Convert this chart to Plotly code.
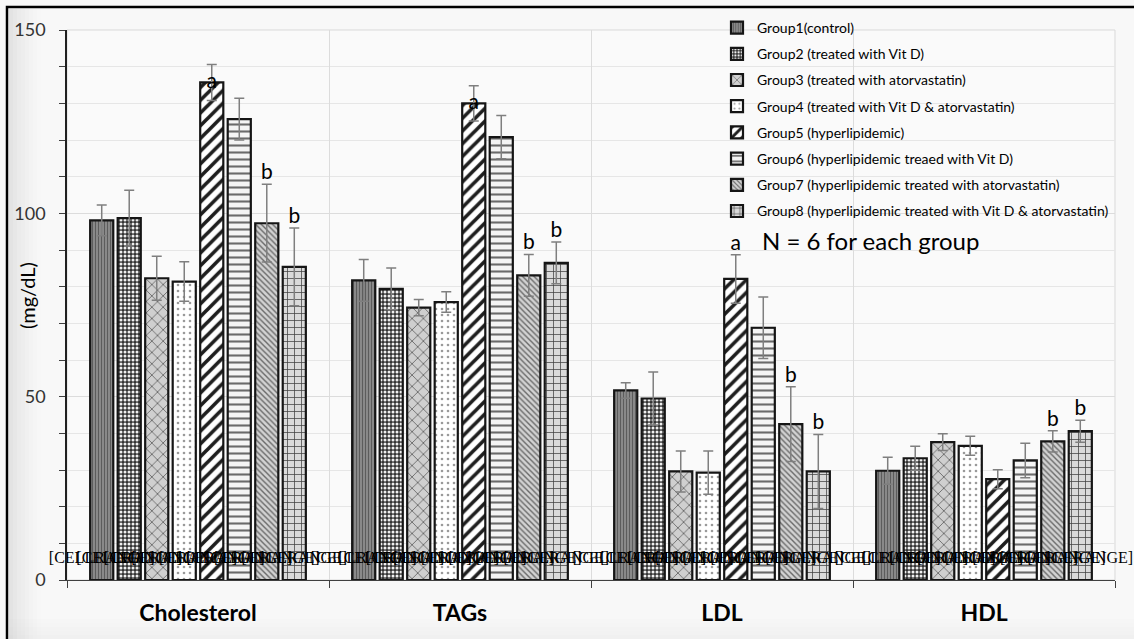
import plotly.graph_objects as go

# Lipid profile per experimental group: mean and SD (mg/dL), N = 6 per group
categories = ["Cholesterol", "TAGs", "LDL", "HDL"]

group_names = [
    "Group1(control)",
    "Group2 (treated with Vit D)",
    "Group3 (treated with atorvastatin)",
    "Group4 (treated with Vit D & atorvastatin)",
    "Group5 (hyperlipidemic)",
    "Group6 (hyperlipidemic treaed with Vit D)",
    "Group7 (hyperlipidemic treated with atorvastatin)",
    "Group8 (hyperlipidemic treated with Vit D & atorvastatin)",
]

g1_mean = [98.1, 81.7, 51.7, 29.8]
g2_mean = [98.7, 79.4, 49.5, 33.2]
g3_mean = [82.3, 74.3, 29.6, 37.6]
g4_mean = [81.4, 75.8, 29.3, 36.6]
g5_mean = [135.7, 130.0, 82.1, 27.5]
g6_mean = [125.7, 120.8, 68.8, 32.6]
g7_mean = [97.3, 83.1, 42.5, 37.8]
g8_mean = [85.4, 86.5, 29.6, 40.6]

g1_sd = [4.2, 5.7, 2.1, 3.7]
g2_sd = [7.6, 5.7, 7.2, 3.3]
g3_sd = [6.0, 2.2, 5.6, 2.3]
g4_sd = [5.4, 2.8, 5.9, 2.6]
g5_sd = [4.9, 4.8, 6.6, 2.6]
g6_sd = [5.7, 5.9, 8.4, 4.7]
g7_sd = [10.6, 5.7, 10.2, 2.9]
g8_sd = [10.6, 5.7, 10.1, 3.0]

# significance letters (a: vs control, b: vs hyperlipidemic)
g5_sig = ["a", "a", "a", ""]
g7_sig = ["b", "b", "b", "b"]
g8_sig = ["b", "b", "b", "b"]
no_sig = ["", "", "", ""]

means = [g1_mean, g2_mean, g3_mean, g4_mean, g5_mean, g6_mean, g7_mean, g8_mean]
sds = [g1_sd, g2_sd, g3_sd, g4_sd, g5_sd, g6_sd, g7_sd, g8_sd]
sigs = [no_sig, no_sig, no_sig, no_sig, g5_sig, no_sig, g7_sig, g8_sig]

# bar fill patterns: (shape, background, foreground, size, solidity)
patterns = [
    ("|", "#8e8e8e", "#5c5c5c", 3, 0.4),
    (".", "#333333", "#f0f0f0", 4, 0.45),
    ("x", "#cfcfcf", "#6e6e6e", 8, 0.22),
    (".", "#ffffff", "#9a9a9a", 6, 0.15),
    ("/", "#ffffff", "#1e1e1e", 9, 0.4),
    ("-", "#f4f4f4", "#6a6a6a", 7, 0.3),
    ("\\", "#d2d2d2", "#6a6a6a", 4, 0.35),
    ("+", "#dadada", "#404040", 7, 0.2),
]

SANS = "Lato, 'Open Sans', sans-serif"
SERIF = "'Liberation Serif', 'DejaVu Serif', serif"

fig = go.Figure()

for i, name in enumerate(group_names):
    shape, bg, fg, size, solidity = patterns[i]
    fig.add_trace(go.Bar(
        name=name,
        x=categories,
        y=means[i],
        offsetgroup=str(i),
        legendgroup=str(i),
        marker=dict(
            color=bg,
            line=dict(color="#151515", width=2.2),
            pattern=dict(shape=shape, bgcolor=bg, fgcolor=fg, size=size,
                         solidity=solidity, fillmode="replace"),
        ),
        error_y=dict(type="data", array=sds[i], visible=True,
                     color="#7f7f7f", thickness=1.5, width=5),
    ))

# data labels: "[CELLRANGE]" at each bar base, plus significance letters
for i in range(len(group_names)):
    xs, ys, texts, fonts, sizes, positions = [], [], [], [], [], []
    for j, cat in enumerate(categories):
        xs.append(cat)
        ys.append(5.8)
        texts.append("[CELLRANGE]")
        fonts.append(SERIF)
        sizes.append(16)
        positions.append("middle center")
        letter = sigs[i][j]
        if letter:
            xs.append(cat)
            # letters for group 5 on cholesterol/TAGs sit on the bar top
            if letter == "a" and j < 2:
                ys.append(means[i][j])
                positions.append("middle center")
            else:
                ys.append(means[i][j] + sds[i][j])
                positions.append("top center")
            texts.append(letter)
            fonts.append(SANS)
            sizes.append(21)
    fig.add_trace(go.Scatter(
        x=xs, y=ys, text=texts, mode="text",
        textposition=positions,
        textfont=dict(family=fonts, size=sizes, color="#000000"),
        offsetgroup=str(i),
        showlegend=False, hoverinfo="skip", cliponaxis=False,
    ))

# page frame, panel bevel and plot-area outline
shapes = []
L, R, T, B = 67, 1115, 30, 580
W = R - L
H = B - T


def px_x(p):
    return (p - L) / W


def px_y(p):
    return (B - p) / H


for k in range(8):
    shapes.append(dict(
        type="rect", xref="paper", yref="paper",
        x0=px_x(9 + 4 * k), x1=px_x(13 + 4 * k), y0=px_y(639), y1=px_y(9),
        fillcolor="#9a9a9a", opacity=0.22 * (1 - k / 8) ** 1.5, line=dict(width=0),
        layer="below",
    ))
for k in range(5):
    shapes.append(dict(
        type="rect", xref="paper", yref="paper",
        x0=px_x(9), x1=px_x(1134), y0=px_y(639 - 4 * k), y1=px_y(635 - 4 * k),
        fillcolor="#b0b0b0", opacity=0.10 * (1 - k / 5), line=dict(width=0),
        layer="below",
    ))
shapes.append(dict(
    type="rect", xref="paper", yref="paper", x0=0, x1=1, y0=0, y1=1,
    line=dict(color="#d9d9d9", width=1), fillcolor="rgba(0,0,0,0)", layer="below",
))
shapes.append(dict(
    type="rect", xref="paper", yref="paper",
    x0=px_x(7), x1=px_x(1140), y0=px_y(645), y1=px_y(7),
    line=dict(color="#000000", width=2.5), fillcolor="rgba(0,0,0,0)",
))

fig.update_layout(
    width=1134, height=639,
    margin=dict(l=L, r=1134 - R, t=T, b=639 - B, pad=0, autoexpand=False),
    paper_bgcolor="#f8f8f8",
    plot_bgcolor="#fafafa",
    barmode="group",
    bargap=0.16,
    bargroupgap=0.16,
    scattermode="group",
    scattergap=0.16,
    font=dict(family=SANS, color="#000000"),
    showlegend=True,
    legend=dict(
        x=px_x(717), y=px_y(12), xanchor="left", yanchor="top",
        bgcolor="rgba(0,0,0,0)", borderwidth=0,
        font=dict(family=SANS, size=14, color="#000000"),
        tracegroupgap=5, itemwidth=30,
        traceorder="grouped",
    ),
    shapes=shapes,
    annotations=[
        dict(
            text="N = 6 for each group", x=px_x(870), y=px_y(240),
            xref="paper", yref="paper", showarrow=False,
            xanchor="center", yanchor="middle",
            font=dict(family=SANS, size=24, color="#000000"),
        ),
        dict(
            text="(mg/dL)", x=px_x(27), y=px_y(296), textangle=-90,
            xref="paper", yref="paper", showarrow=False,
            xanchor="center", yanchor="middle",
            font=dict(family=SANS, size=20, color="#000000"),
        ),
    ],
    xaxis=dict(
        type="category",
        automargin=False,
        tickson="boundaries",
        ticks="outside", ticklen=7, tickcolor="#404040",
        showgrid=True, gridcolor="#dcdcdc", gridwidth=1,
        showline=True, linecolor="#404040", linewidth=1.2,
        tickfont=dict(family=SANS, size=23, color="#000000", weight="bold"),
        ticklabelstandoff=12,
    ),
    yaxis=dict(
        automargin=False,
        range=[0, 150],
        tickvals=[0, 50, 100, 150],
        ticks="outside", ticklen=6, tickcolor="#404040",
        showgrid=True, gridcolor="#dcdcdc",
        showline=True, linecolor="#202020", linewidth=1.5,
        zeroline=False,
        tickfont=dict(family=SANS, size=18, color="#333333"),
        ticklabelstandoff=10,
        minor=dict(dtick=10, showgrid=True, gridcolor="#e6e6e6",
                   ticks="outside", ticklen=6, tickcolor="#404040"),
    ),
)

fig.write_html("out.html")
